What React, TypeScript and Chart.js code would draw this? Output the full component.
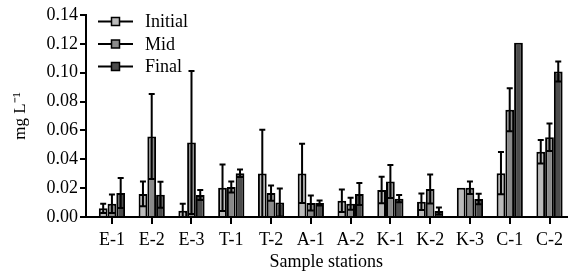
import React, { useEffect, useRef } from "react";
import { Chart, registerables } from "chart.js";

Chart.register(...registerables);

const stations = ["E-1", "E-2", "E-3", "T-1", "T-2", "A-1", "A-2", "K-1", "K-2", "K-3", "C-1", "C-2"];

const initialVals = [0.006, 0.016, 0.0044, 0.0203, 0.0302, 0.0302, 0.0113, 0.0187, 0.0106, 0.0203, 0.0304, 0.0452];
const initialErr = [0.0032, 0.0086, 0.0048, 0.0161, 0.0302, 0.0205, 0.0078, 0.0092, 0.0057, 0.0, 0.0146, 0.0081];

const midVals = [0.0092, 0.0558, 0.0516, 0.0208, 0.0166, 0.0097, 0.0092, 0.0246, 0.0194, 0.0203, 0.0743, 0.0553];
const midErr = [0.0064, 0.0295, 0.0496, 0.0038, 0.0053, 0.0052, 0.0042, 0.0114, 0.0101, 0.0043, 0.0149, 0.0095];

const finalVals = [0.0166, 0.0154, 0.0152, 0.0304, 0.0101, 0.0097, 0.0159, 0.0127, 0.0042, 0.0125, 0.1208, 0.1008];
const finalErr = [0.0104, 0.009, 0.0035, 0.0026, 0.0097, 0.0018, 0.0076, 0.0025, 0.0024, 0.0036, 0.0, 0.0069];

const seriesNames = ["Initial", "Mid", "Final"];
const seriesColors = ["#bababa", "#8a8a8a", "#4c4c4c"];

const yTicks = [0, 0.02, 0.04, 0.06, 0.08, 0.1, 0.12, 0.14];

const FONT = "'Liberation Serif', 'Times New Roman', serif";

const errorBarPlugin = {
  id: "errorBars",
  afterDatasetsDraw(chart: any) {
    const ctx = chart.ctx;
    const yScale = chart.scales.y;
    ctx.save();
    ctx.strokeStyle = "#000";
    ctx.lineWidth = 2;
    chart.data.datasets.forEach((ds: any, di: number) => {
      const meta = chart.getDatasetMeta(di);
      meta.data.forEach((el: any, i: number) => {
        const v = ds.data[i].y;
        const e = ds.errors[i];
        if (!e) return;
        const x = el.x;
        const yt = yScale.getPixelForValue(v + e);
        const yb = yScale.getPixelForValue(Math.max(v - e, 0));
        const cap = 3;
        ctx.beginPath();
        ctx.moveTo(x, yt);
        ctx.lineTo(x, yb);
        ctx.moveTo(x - cap, yt);
        ctx.lineTo(x + cap, yt);
        ctx.moveTo(x - cap, yb);
        ctx.lineTo(x + cap, yb);
        ctx.stroke();
      });
    });
    ctx.restore();
  },
};

const legendPlugin = {
  id: "customLegend",
  afterDraw(chart: any) {
    const ctx = chart.ctx;
    const area = chart.chartArea;
    ctx.save();
    chart.data.datasets.forEach((ds: any, di: number) => {
      const y = area.top + 6.5 + di * 22.5;
      const x0 = area.left + 12;
      const x1 = area.left + 47;
      const xm = (x0 + x1) / 2;
      ctx.strokeStyle = "#000";
      ctx.lineWidth = 2;
      ctx.beginPath();
      ctx.moveTo(x0, y);
      ctx.lineTo(x1, y);
      ctx.stroke();
      ctx.fillStyle = ds.backgroundColor;
      ctx.fillRect(xm - 4, y - 4, 8, 8);
      ctx.lineWidth = 1.5;
      ctx.strokeRect(xm - 4, y - 4, 8, 8);
      ctx.fillStyle = "#000";
      ctx.font = `18px ${FONT}`;
      ctx.textAlign = "left";
      ctx.textBaseline = "middle";
      ctx.fillText(ds.label, area.left + 59, y + 1);
    });
    ctx.restore();
  },
};

export default function App() {
  const canvasRef = useRef<HTMLCanvasElement | null>(null);

  useEffect(() => {
    if (!canvasRef.current) return;
    const vals = [initialVals, midVals, finalVals];
    const errs = [initialErr, midErr, finalErr];
    const chart = new Chart(canvasRef.current, {
      type: "bar",
      data: {
        datasets: seriesNames.map((name, si) => ({
          label: name,
          data: vals[si].map((v, i) => ({ x: i, y: v })),
          errors: errs[si],
          backgroundColor: seriesColors[si],
          borderColor: "#000",
          borderWidth: 2,
          categoryPercentage: 0.66,
          barPercentage: 1.0,
        })) as any,
      },
      options: {
        animation: false,
        responsive: false,
        devicePixelRatio: 1,
        layout: { padding: { top: 15, left: 0, right: 0, bottom: 0 } },
        plugins: {
          legend: { display: false },
          tooltip: { enabled: false },
        },
        scales: {
          x: {
            type: "linear",
            offset: false,
            min: -0.652,
            max: 11.43,
            afterBuildTicks: (s: any) => {
              s.ticks = stations.map((_, i) => ({ value: i }));
            },
            afterFit: (s: any) => {
              s.height = 56;
            },
            ticks: {
              autoSkip: false,
              maxRotation: 0,
              color: "#000",
              font: { family: FONT, size: 18 },
              padding: 5,
              callback: (v: any) => stations[v] ?? "",
            },
            grid: {
              display: true,
              offset: false,
              drawOnChartArea: false,
              drawTicks: true,
              tickLength: 7,
              color: "#000",
              lineWidth: 2,
            },
            border: { display: true, color: "#000", width: 2 },
            title: {
              display: true,
              text: "Sample stations",
              color: "#000",
              font: { family: FONT, size: 18 },
              padding: { top: 0, bottom: 0 },
            },
          },
          y: {
            type: "linear",
            min: 0,
            max: 0.14,
            afterBuildTicks: (s: any) => {
              s.ticks = yTicks.map((v) => ({ value: v }));
            },
            afterFit: (s: any) => {
              s.width = 86;
            },
            ticks: {
              color: "#000",
              font: { family: FONT, size: 18 },
              padding: 2,
              callback: (v: any) => Number(v).toFixed(2),
            },
            grid: {
              display: true,
              drawOnChartArea: false,
              drawTicks: true,
              tickLength: 6,
              color: "#000",
              lineWidth: 2,
            },
            border: { display: true, color: "#000", width: 2 },
            title: {
              display: true,
              text: "mg L\u207B\u00B9",
              color: "#000",
              font: { family: FONT, size: 17 },
              padding: { top: 10, bottom: 0 },
            },
          },
        },
      },
      plugins: [errorBarPlugin, legendPlugin],
    });
    return () => chart.destroy();
  }, []);

  return (
    <div style={{ position: "fixed", left: 0, top: 0, width: 568, height: 273, overflow: "hidden", background: "#fff" }}>
      <canvas ref={canvasRef} width={568} height={273} />
    </div>
  );
}
